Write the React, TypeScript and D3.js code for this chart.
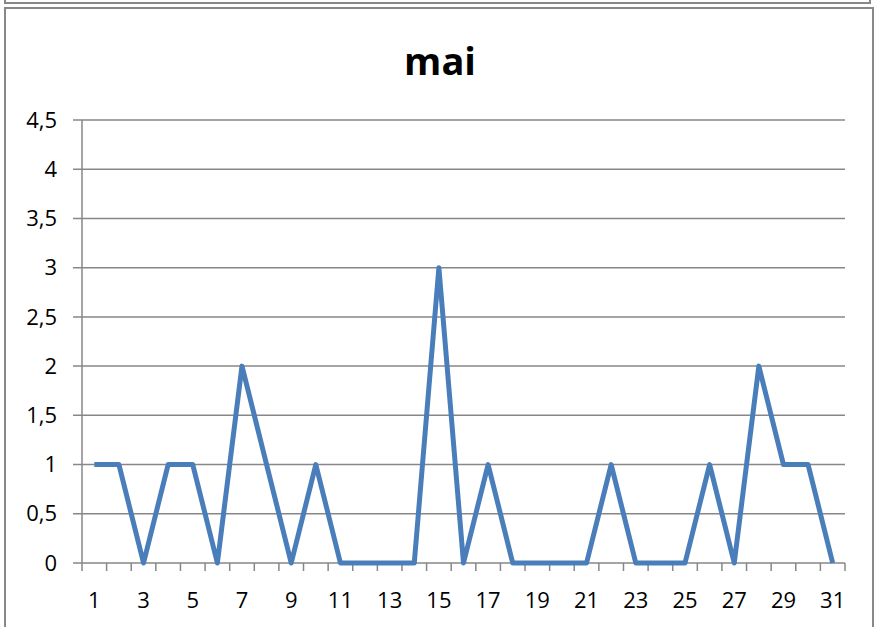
import React from "react";
import * as d3 from "d3";

const days = d3.range(1, 32);
const values = [1, 1, 0, 1, 1, 0, 2, 1, 0, 1, 0, 0, 0, 0, 3, 0, 1, 0, 0, 0, 0, 1, 0, 0, 0, 1, 0, 2, 1, 1, 0];
const yTicks = [0, 0.5, 1, 1.5, 2, 2.5, 3, 3.5, 4, 4.5];
const xLabels = days.filter(d => d % 2 === 1);
const title = "mai";

const W = 875;
const H = 627;
const plot = { left: 82, right: 845, top: 120, bottom: 563 };
const font = "'Open Sans', sans-serif";

export default function App() {
    const x = d3.scaleBand<number>()
        .domain(days)
        .range([plot.left, plot.right]);
    const y = d3.scaleLinear()
        .domain([0, 4.5])
        .range([plot.bottom, plot.top]);
    const cx = (d: number) => (x(d) as number) + x.bandwidth() / 2;

    const line = d3.line<number>()
        .x((_, i) => cx(days[i]))
        .y(v => y(v));

    const fmt = (v: number) => String(v).replace(".", ",");

    // category boundaries for tick marks
    const bounds = days.map(d => x(d) as number).concat([plot.right]);

    return (
        <svg width={W} height={H} style={{ position: "absolute", left: 0, top: 0, background: "#fff" }}>
            {/* frame of the chart above, and this chart's frame */}
            <path d={`M5,-5 V3 H870 V-5`} fill="none" stroke="#888" strokeWidth={2} />
            <rect x={5} y={8} width={868} height={H} fill="#fff" stroke="#888" strokeWidth={2} />

            <text x={440} y={75} textAnchor="middle" fontFamily={font} fontWeight="bold" fontSize={38} fill="#000">
                {title}
            </text>

            {/* gridlines + y labels */}
            {yTicks.map(t => (
                <g key={t}>
                    <line x1={plot.left - 9} x2={plot.right} y1={y(t)} y2={y(t)} stroke="#878787" strokeWidth={1.5} />
                    <text x={57} y={y(t)} dy="0.35em" textAnchor="end" fontFamily={font} fontSize={22} fill="#000">
                        {fmt(t)}
                    </text>
                </g>
            ))}

            {/* axes */}
            <line x1={plot.left} x2={plot.left} y1={plot.top} y2={plot.bottom} stroke="#878787" strokeWidth={1.5} />
            {bounds.map((b, i) => (
                <line key={i} x1={b} x2={b} y1={plot.bottom} y2={plot.bottom + 8} stroke="#878787" strokeWidth={1.5} />
            ))}
            {xLabels.map(d => (
                <text key={d} x={cx(d)} y={600} dy="0.35em" textAnchor="middle" fontFamily={font} fontSize={22} fill="#000">
                    {d}
                </text>
            ))}

            <path d={line(values) || ""} fill="none" stroke="#4a7ebb" strokeWidth={5} strokeLinejoin="round" strokeLinecap="butt" />
        </svg>
    );
}
